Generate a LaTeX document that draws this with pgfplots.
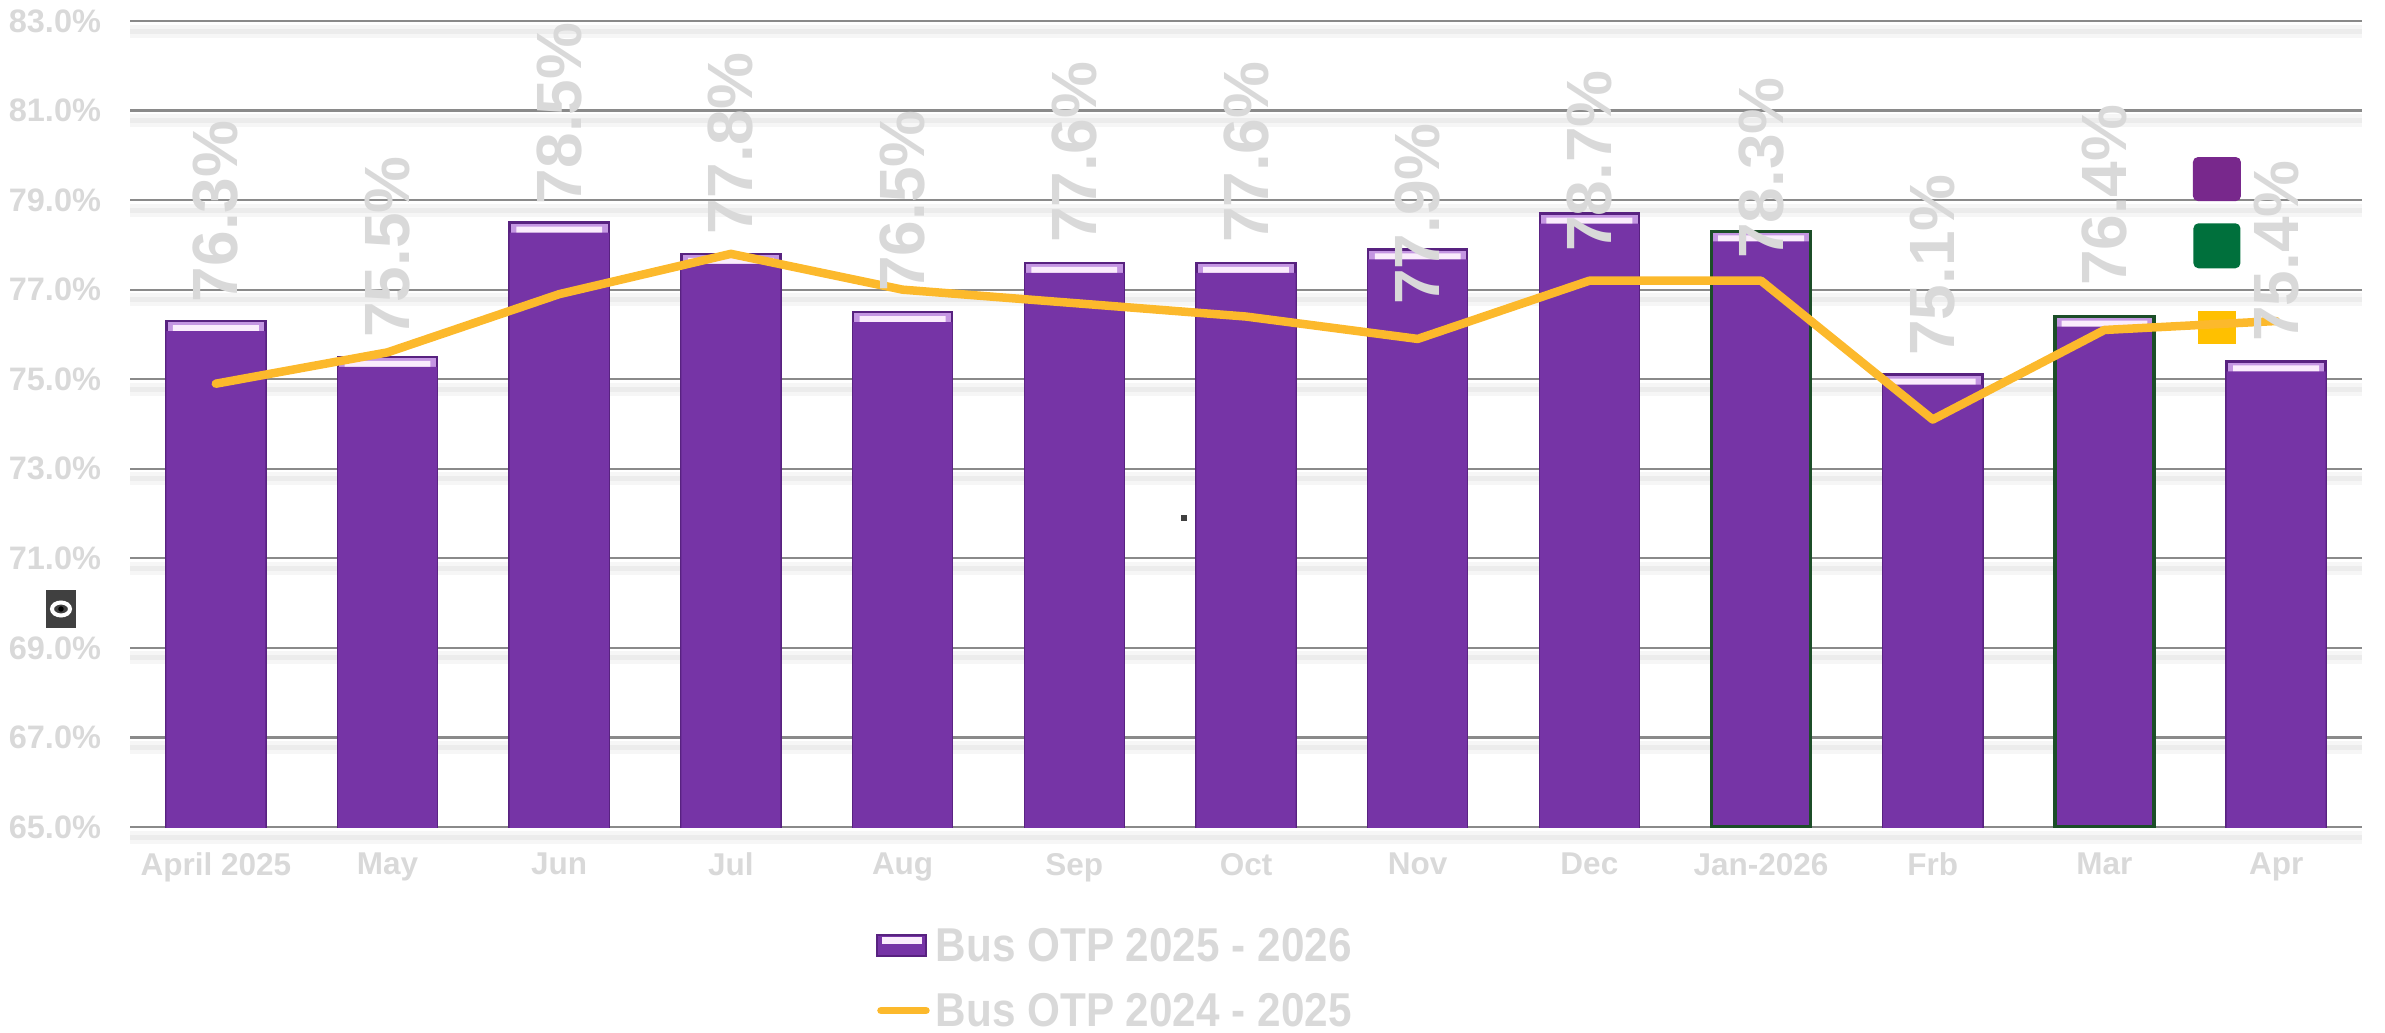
\documentclass[border=0pt]{standalone}
\usepackage{pgfplots}
\pgfplotsset{compat=1.18}
\usepackage{pgfplotstable}
\usepackage{fontspec}
\setmainfont{Liberation Sans}
\newfontfamily\legfont{Liberation Sans}[FakeStretch=0.89]

\definecolor{barpurple}{RGB}{118,52,166}
\definecolor{baredge}{RGB}{88,34,128}
\definecolor{barhl}{RGB}{196,150,226}
\definecolor{barwhite}{RGB}{250,236,252}
\definecolor{labgray}{RGB}{217,217,217}
\definecolor{lineorange}{RGB}{252,185,44}
\definecolor{greenedge}{RGB}{28,78,40}
\definecolor{gridgray}{RGB}{138,138,138}
\definecolor{shadowgray}{RGB}{236,236,236}
\definecolor{shadowlight}{RGB}{246,246,246}
\definecolor{sqpurple}{RGB}{120,40,140}
\definecolor{sqgreen}{RGB}{0,112,60}
\definecolor{sqyellow}{RGB}{255,192,0}

\pgfplotstableread{
x val lab prev
0 76.3 76.70 74.9
1 75.5 75.90 75.6
2 78.5 78.89 76.9
3 77.8 78.22 77.8
4 76.5 76.93 77.0
5 77.6 78.02 76.7
6 77.6 78.02 76.4
7 77.9 76.64 75.9
8 78.7 77.82 77.2
9 78.3 77.67 77.2
10 75.1 75.50 74.1
11 76.4 77.06 76.1
12 75.4 75.81 76.3
}\otpdata

\pgfplotstableread{
x val
9 78.3
11 76.4
}\greendata

\begin{document}
\begin{tikzpicture}
\useasboundingbox (-26pt,-41pt) rectangle (451pt,165.4pt);
\draw[shadowlight, line width=2.6pt] (0pt,-2pt) -- (446.4pt,-2pt);
\draw[shadowgray, line width=1.0pt] (0pt,-2pt) -- (446.4pt,-2pt);
\begin{axis}[
  at={(0,0)}, anchor=south west,
  scale only axis, width=446.4pt, height=161.2pt,
  xmin=-0.5, xmax=12.5, ymin=65, ymax=83,
  axis line style={draw=none},
  major tick length=0pt,
  xtick={0,...,12},
  xticklabels={April 2025,May,Jun,Jul,Aug,Sep,Oct,Nov,Dec,Jan-2026,Frb,Mar,Apr},
  ytick={65,67,...,83},
  yticklabel={\pgfmathprintnumber[fixed,fixed zerofill,precision=1,assume math mode=true]{\tick}\%},
  ymajorgrids, major grid style={draw=gridgray, line width=0.45pt},
  xticklabel style={font=\bfseries\fontsize{6.3}{7}\selectfont, text=labgray, anchor=north, inner sep=0pt, yshift=-5pt},
  yticklabel style={font=\bfseries\fontsize{6.5}{7.5}\selectfont, text=labgray, anchor=east, inner sep=0pt, xshift=-5.6pt},
  legend style={at={(0.334,-0.1873)}, anchor=west, draw=none, fill=none, inner sep=0pt,
    row sep=4.7pt, column sep=0.6pt,
    font=\legfont\bfseries\fontsize{9.5}{10}\selectfont, text=labgray,
    nodes={inner sep=0.6pt, text height=6.8pt, text depth=0.3pt}},
  legend cell align=left,
]
\pgfplotsinvokeforeach{67,69,71,73,75,77,79,81,83}{
  \draw[shadowlight, line width=2.6pt, yshift=-2pt] (axis cs:-0.5,#1) -- (axis cs:12.5,#1);
  \draw[shadowgray, line width=1.0pt, yshift=-2pt] (axis cs:-0.5,#1) -- (axis cs:12.5,#1);
}
\addplot[ybar, bar width=0.577, bar shift=0pt, fill=barhl, draw=baredge, line width=0.5pt,
  legend image code/.code={\draw[draw=baredge, fill=barpurple, line width=0.4pt] (0pt,-2.1pt) rectangle (9.8pt,2.1pt); \fill[barwhite] (1.2pt,0.6pt) rectangle (8.6pt,1.5pt);}]
  table[x=x,y=val]{\otpdata};
\addlegendentry{Bus OTP 2025 - 2026}
\addplot[ybar, bar width=0.50, bar shift=0pt, fill=barwhite, draw=none, yshift=-0.8pt, forget plot]
  table[x=x,y=val]{\otpdata};
\addplot[ybar, bar width=0.577, bar shift=0pt, fill=barpurple, draw=none, yshift=-2.0pt, forget plot]
  table[x=x,y=val]{\otpdata};
\addplot[ybar, bar width=0.577, bar shift=0pt, fill=none, draw=greenedge, line width=0.7pt, forget plot]
  table[x=x,y=val]{\greendata};
\node[fill=sqpurple, rounded corners=1pt, minimum width=9.6pt, minimum height=8.8pt, inner sep=0pt] at (axis cs:11.655,79.47) {};
\node[fill=sqgreen, rounded corners=1pt, minimum width=9.4pt, minimum height=9pt, inner sep=0pt] at (axis cs:11.655,77.98) {};
\node[fill=sqyellow, minimum width=7.6pt, minimum height=6.6pt, inner sep=0pt] at (axis cs:11.655,76.15) {};
\fill[black!75] (axis cs:5.64,71.91) +(-0.6pt,-0.6pt) rectangle +(0.6pt,0.6pt);
\addplot[lineorange, line width=1.7pt, mark=none, line cap=round, line join=round,
  legend image code/.code={\draw[lineorange, line width=1.5pt, line cap=round] (0.7pt,0pt) -- (9.7pt,0pt);}]
  table[x=x,y=prev]{\otpdata};
\addlegendentry{Bus OTP 2024 - 2025}
\addplot[draw=none, mark=none, forget plot, point meta=explicit,
  nodes near coords={\pgfmathprintnumber[fixed,fixed zerofill,precision=1,assume math mode=true]{\pgfplotspointmeta}\%},
  nodes near coords style={rotate=90, anchor=west, inner sep=0pt, text=labgray, font=\bfseries\fontsize{12.8}{14}\selectfont}]
  table[x=x,y=lab,meta=val]{\otpdata};
\end{axis}
\fill[black!75] (-16.8pt,39.8pt) rectangle (-10.8pt,47.4pt);
\draw[white, line width=0.8pt] (-13.8pt,43.6pt) ellipse (1.8pt and 1.3pt);
\fill[black] (-13.8pt,43.6pt) circle (0.55pt);
\end{tikzpicture}
\end{document}
